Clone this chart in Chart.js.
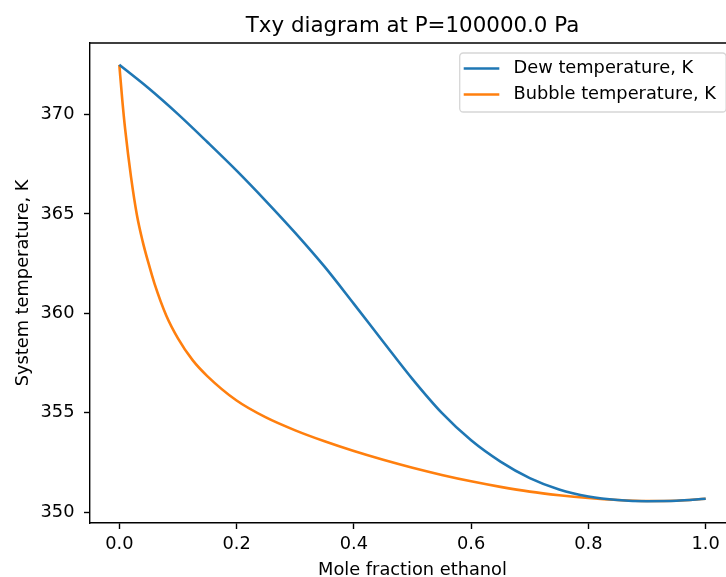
<!DOCTYPE html>
<html>
<head>
<meta charset="utf-8">
<title>Txy diagram</title>
<script src="https://cdn.jsdelivr.net/npm/chart.js@4/dist/chart.umd.min.js"></script>
<style>
  html, body { margin: 0; padding: 0; background: #ffffff; overflow: hidden; }
  canvas { display: block; }
</style>
</head>
<body>
<canvas id="txy" width="760" height="577"></canvas>
<script>
// Vapour (dew) line: temperature against ethanol mole fraction
const dewX = [0, 0.05, 0.1, 0.15, 0.2, 0.25, 0.3, 0.35, 0.4, 0.45, 0.5, 0.55, 0.6, 0.65, 0.7, 0.75, 0.8, 0.85, 0.9, 0.95, 1.0];
const dewT = [372.50, 371.32, 370.02, 368.62, 367.18, 365.65, 364.05, 362.35, 360.48, 358.58, 356.70, 355.00, 353.62, 352.55, 351.72, 351.15, 350.80, 350.62, 350.56, 350.58, 350.68];

// Liquid (bubble) line
const bubbleX = [0, 0.005, 0.01, 0.02, 0.03, 0.04, 0.05, 0.06, 0.08, 0.1, 0.125, 0.15, 0.2, 0.25, 0.3, 0.35, 0.4, 0.45, 0.5, 0.55, 0.6, 0.65, 0.7, 0.75, 0.8, 0.85, 0.9, 0.95, 1.0];
const bubbleT = [372.50, 370.75, 369.25, 366.85, 364.95, 363.60, 362.50, 361.50, 359.90, 358.75, 357.65, 356.85, 355.62, 354.77, 354.12, 353.57, 353.08, 352.64, 352.24, 351.88, 351.56, 351.28, 351.04, 350.86, 350.72, 350.62, 350.57, 350.58, 350.68];

const xTickValues = [0, 0.2, 0.4, 0.6, 0.8, 1.0];
const xTickLabels = ['0.0', '0.2', '0.4', '0.6', '0.8', '1.0'];
const yTickValues = [350, 355, 360, 365, 370];
const yTickLabels = ['350', '355', '360', '365', '370'];

const seriesNames = ['Dew temperature, K', 'Bubble temperature, K'];
const seriesColors = ['#1f77b4', '#ff7f0e'];
const titleText = 'Txy diagram at P=100000.0 Pa';
const xTitle = 'Mole fraction ethanol';
const yTitle = 'System temperature, K';

const FONT = '"DejaVu Sans", "Liberation Sans", sans-serif';
const BASE = 17.8;

// axis limits padded by 5% of the data span on each side
const allT = dewT.concat(bubbleT);
const tMin = Math.min(...allT), tMax = Math.max(...allT);
const tPad = 0.05 * (tMax - tMin);
const xMinData = Math.min(...dewX, ...bubbleX), xMaxData = Math.max(...dewX, ...bubbleX);
const xPad = 0.05 * (xMaxData - xMinData);

const toPoints = (xs, ys) => xs.map((x, i) => ({ x: x, y: ys[i] }));

// frame top/right spines, title and an in-axes legend
const decorations = {
  id: 'decorations',
  afterDraw(chart) {
    const { ctx, chartArea: a } = chart;
    ctx.save();

    ctx.strokeStyle = '#000000';
    ctx.lineWidth = 1.4;
    ctx.beginPath();
    ctx.moveTo(a.left, a.top);
    ctx.lineTo(a.right, a.top);
    ctx.lineTo(a.right, a.bottom);
    ctx.stroke();

    ctx.fillStyle = '#000000';
    ctx.font = (BASE * 1.2) + 'px ' + FONT;
    ctx.textAlign = 'center';
    ctx.textBaseline = 'alphabetic';
    ctx.fillText(titleText, (a.left + a.right) / 2, 32);

    // legend
    ctx.font = BASE + 'px ' + FONT;
    const pad = 0.4 * BASE, handle = 2 * BASE, gap = 0.8 * BASE;
    const textW = Math.max(...seriesNames.map(n => ctx.measureText(n).width));
    const boxW = pad * 2 + handle + gap + textW;
    const right = a.right - 0.5 * BASE;
    const left = right - boxW;
    const top = a.top + 10;
    const rowH = 26;
    const boxH = 59;
    const r = 0.2 * BASE;
    ctx.beginPath();
    ctx.moveTo(left + r, top);
    ctx.lineTo(right - r, top);
    ctx.arcTo(right, top, right, top + r, r);
    ctx.lineTo(right, top + boxH - r);
    ctx.arcTo(right, top + boxH, right - r, top + boxH, r);
    ctx.lineTo(left + r, top + boxH);
    ctx.arcTo(left, top + boxH, left, top + boxH - r, r);
    ctx.lineTo(left, top + r);
    ctx.arcTo(left, top, left + r, top, r);
    ctx.closePath();
    ctx.fillStyle = 'rgba(255,255,255,0.8)';
    ctx.fill();
    ctx.strokeStyle = 'rgba(204,204,204,0.8)';
    ctx.lineWidth = 1.3;
    ctx.stroke();

    seriesNames.forEach((name, i) => {
      const cy = top + 15.5 + i * rowH;
      const hx = left + 4;
      ctx.strokeStyle = seriesColors[i];
      ctx.lineWidth = 2.6;
      ctx.beginPath();
      ctx.moveTo(hx, cy);
      ctx.lineTo(hx + handle, cy);
      ctx.stroke();
      ctx.fillStyle = '#000000';
      ctx.textAlign = 'left';
      ctx.textBaseline = 'middle';
      ctx.fillText(name, hx + handle + gap, cy);
    });

    ctx.restore();
  }
};

new Chart(document.getElementById('txy'), {
  type: 'line',
  data: {
    datasets: [
      {
        label: seriesNames[0],
        data: toPoints(dewX, dewT),
        borderColor: seriesColors[0],
        backgroundColor: seriesColors[0],
        borderWidth: 2.6,
        pointRadius: 0,
        fill: false,
        cubicInterpolationMode: 'monotone'
      },
      {
        label: seriesNames[1],
        data: toPoints(bubbleX, bubbleT),
        borderColor: seriesColors[1],
        backgroundColor: seriesColors[1],
        borderWidth: 2.6,
        pointRadius: 0,
        fill: false,
        cubicInterpolationMode: 'monotone'
      }
    ]
  },
  options: {
    responsive: false,
    animation: false,
    devicePixelRatio: 1,
    layout: { padding: { top: 43, right: 25, left: 0, bottom: 0 } },
    plugins: {
      legend: { display: false },
      title: { display: false },
      tooltip: { enabled: false }
    },
    scales: {
      x: {
        type: 'linear',
        position: 'bottom',
        min: xMinData - xPad,
        max: xMaxData + xPad,
        afterBuildTicks: s => { s.ticks = xTickValues.map(v => ({ value: v })); },
        afterFit: s => { s.height = 54; },
        grid: {
          display: true,
          drawOnChartArea: false,
          drawTicks: true,
          tickLength: 6,
          tickWidth: 1.4,
          tickColor: '#000000'
        },
        border: { display: true, color: '#000000', width: 1.4 },
        ticks: {
          color: '#000000',
          font: { family: FONT, size: BASE },
          padding: 5,
          maxRotation: 0,
          autoSkip: false,
          callback: v => xTickLabels[xTickValues.indexOf(v)]
        },
        title: {
          display: true,
          text: xTitle,
          color: '#000000',
          font: { family: FONT, size: BASE },
          padding: { top: 0, bottom: -4.4 }
        }
      },
      y: {
        type: 'linear',
        position: 'left',
        min: tMin - tPad,
        max: tMax + tPad,
        afterBuildTicks: s => { s.ticks = yTickValues.map(v => ({ value: v })); },
        afterFit: s => { s.width = 90; },
        grid: {
          display: true,
          drawOnChartArea: false,
          drawTicks: true,
          tickLength: 6,
          tickWidth: 1.4,
          tickColor: '#000000'
        },
        border: { display: true, color: '#000000', width: 1.4 },
        ticks: {
          color: '#000000',
          font: { family: FONT, size: BASE },
          padding: 9.5,
          autoSkip: false,
          callback: v => yTickLabels[yTickValues.indexOf(v)]
        },
        title: {
          display: true,
          text: yTitle,
          color: '#000000',
          font: { family: FONT, size: BASE },
          padding: { top: 12.6, bottom: 0 }
        }
      }
    }
  },
  plugins: [decorations]
});
</script>
</body>
</html>
